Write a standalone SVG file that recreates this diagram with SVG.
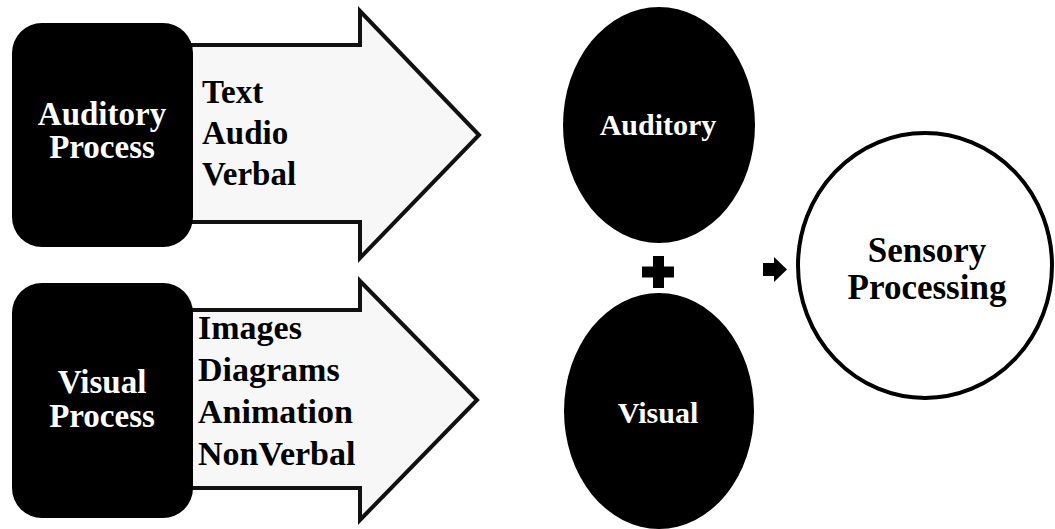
<svg xmlns="http://www.w3.org/2000/svg" width="1055" height="529" viewBox="0 0 1055 529">
<style>
.t{font-family:"Liberation Serif","Times New Roman",serif;font-weight:bold}
.w{fill:#ffffff}
.k{fill:#000000}
.arrow{fill:#f7f7f7;stroke:#111111;stroke-width:4;stroke-linejoin:miter}
</style>
<rect width="1055" height="529" fill="#ffffff"/>
<g id="connectors">
<polygon class="arrow" points="150,45 360,45 360,11 479,135 360,258 360,222 150,222"/>
<polygon class="arrow" points="150,310 360,310 360,281 477,400 360,520 360,488 150,488"/>
<path id="plus" d="M653,256 H664 V266.5 H674 V277.5 H664 V288 H653 V277.5 H642 V266.5 H653 Z" fill="#000"/>
<polygon id="small-arrow" points="763,263 774,263 774,257 787,269.5 774,282 774,276 763,276" fill="#000"/>
</g>
<g id="auditory-process">
<rect x="12" y="23" width="181" height="224" rx="30" ry="30" fill="#000"/>
<text class="t w" x="102" y="125" font-size="33" text-anchor="middle">Auditory</text>
<text class="t w" x="102" y="158" font-size="33" text-anchor="middle">Process</text>
</g>
<g id="auditory-items">
<text class="t k" x="202" y="103" font-size="33">Text</text>
<text class="t k" x="202" y="144" font-size="33">Audio</text>
<text class="t k" x="202" y="185" font-size="33">Verbal</text>
</g>
<g id="visual-process">
<rect x="12" y="283" width="181" height="235" rx="30" ry="30" fill="#000"/>
<text class="t w" x="102" y="393" font-size="33" text-anchor="middle">Visual</text>
<text class="t w" x="102" y="427" font-size="33" text-anchor="middle">Process</text>
</g>
<g id="visual-items">
<text class="t k" x="198" y="339" font-size="34">Images</text>
<text class="t k" x="198" y="381" font-size="34">Diagrams</text>
<text class="t k" x="198" y="423" font-size="34">Animation</text>
<text class="t k" x="198" y="465" font-size="34">NonVerbal</text>
</g>
<g id="auditory">
<ellipse cx="659" cy="125" rx="96" ry="118" fill="#000"/>
<text class="t w" x="658" y="135" font-size="30" text-anchor="middle">Auditory</text>
</g>
<g id="visual">
<ellipse cx="659" cy="411" rx="95" ry="118" fill="#000"/>
<text class="t w" x="658" y="423" font-size="30" text-anchor="middle">Visual</text>
</g>
<g id="sensory-processing">
<ellipse cx="925" cy="265.5" rx="127" ry="132.5" fill="#ffffff" stroke="#000" stroke-width="4"/>
<text class="t k" x="927" y="262" font-size="35" text-anchor="middle">Sensory</text>
<text class="t k" x="927" y="299" font-size="35" text-anchor="middle">Processing</text>
</g>
</svg>
